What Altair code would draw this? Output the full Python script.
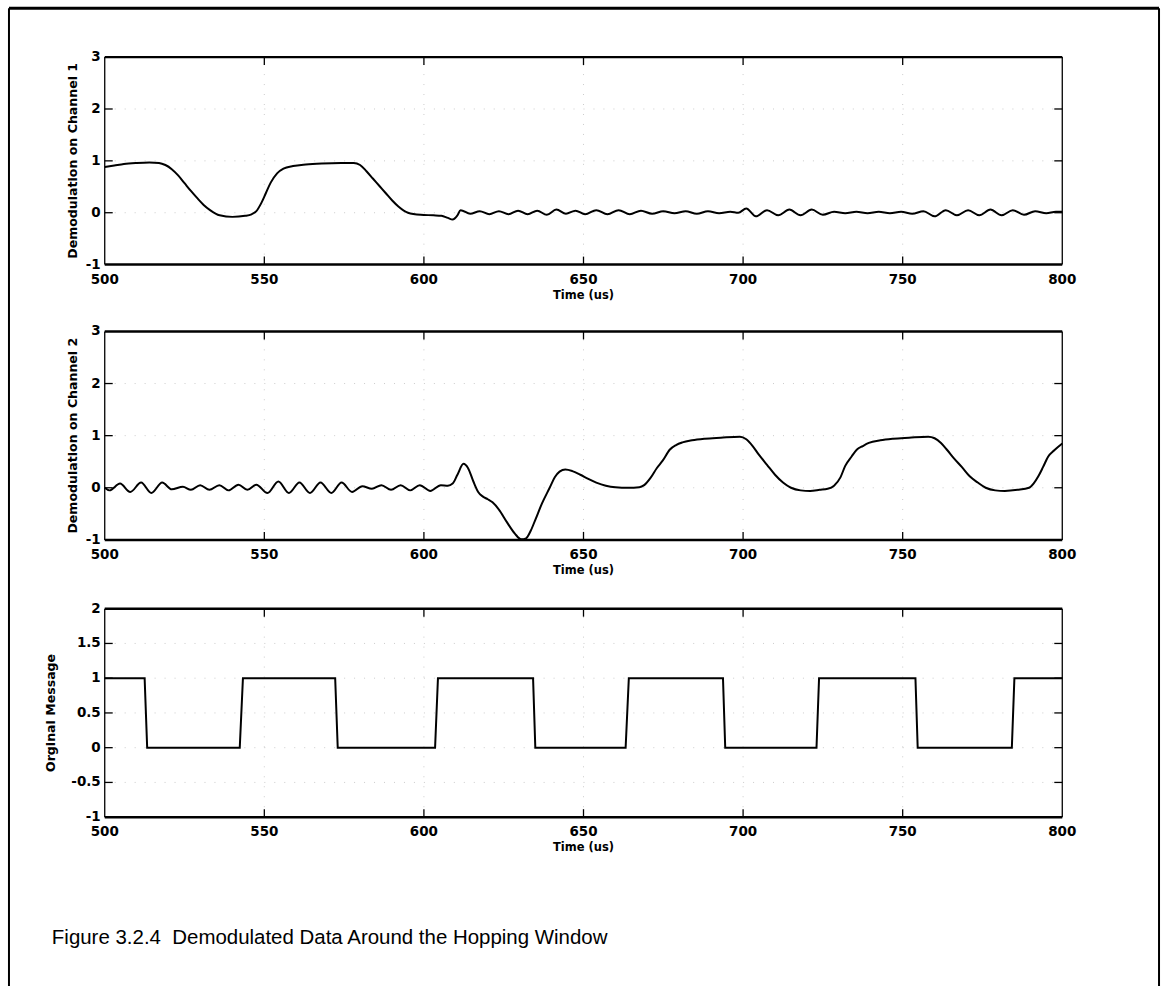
import altair as alt
import pandas as pd

# ---------------- data ----------------
X_TICKS = [500, 550, 600, 650, 700, 750, 800]
Y12_TICKS = [-1, 0, 1, 2, 3]
Y3_TICKS = [-1, -0.5, 0, 0.5, 1, 1.5, 2]

Y_TITLES = ["Demodulation on Channel 1", "Demodulation on Channel 2", "Orginal Message"]
X_TITLE = "Time (us)"
CAPTION = "Figure 3.2.4\u00a0 Demodulated Data Around the Hopping Window"

CH1_T = [500, 503, 506, 510, 514, 517, 519, 521, 523, 525, 527, 529, 531, 533, 536,
         540, 544, 546, 547.5, 549, 550.5, 552, 554, 556, 559, 563, 568, 574, 578,
         580, 582, 584, 586, 588, 590, 592, 595, 599, 603, 605.5, 607.5, 609, 610.5,
         611.5, 614.5, 617.5, 620.5, 623.5, 626.5, 629.5, 632.5, 635.5, 638.5, 641.5,
         644.5, 647.5, 650.5, 654, 657.5, 661, 664.5, 668, 671.5, 675, 678.5, 682,
         685.5, 689, 692.5, 696, 698.5, 701, 704, 707.5, 711, 714.5, 718, 721.5, 725,
         728.5, 732, 735.5, 739, 742.5, 746, 749.5, 753, 756.5, 760, 763.5, 767,
         770.5, 774, 777.5, 781, 784.5, 788, 791.5, 795, 798, 800]
CH1_V = [0.88, 0.91, 0.94, 0.96, 0.97, 0.96, 0.92, 0.84, 0.72, 0.57, 0.42, 0.28, 0.15, 0.05, -0.05,
         -0.08, -0.06, -0.03, 0.03, 0.18, 0.38, 0.58, 0.76, 0.85, 0.9, 0.93, 0.95, 0.96, 0.96,
         0.92, 0.8, 0.66, 0.52, 0.38, 0.24, 0.12, 0.0, -0.04, -0.05, -0.06, -0.1, -0.13, -0.05,
         0.05, -0.02, 0.03, -0.03, 0.03, -0.03, 0.04, -0.03, 0.04, -0.04, 0.06,
         -0.02, 0.04, -0.03, 0.05, -0.03, 0.05, -0.03, 0.04, -0.02, 0.03, -0.01, 0.03,
         -0.02, 0.03, -0.01, 0.02, 0.0, 0.08, -0.07, 0.05, -0.05, 0.06, -0.05, 0.06, -0.04,
         0.02, -0.01, 0.02, -0.01, 0.02, -0.01, 0.02, -0.02, 0.03, -0.07, 0.05, -0.05,
         0.05, -0.05, 0.06, -0.05, 0.05, -0.04, 0.03, -0.01, 0.02, 0.02]

CH2_T = [500, 501.5, 504.8, 508, 511.4, 514.6, 518, 521, 524.5, 527, 529.9, 532.8, 535.9,
         538.8, 541.9, 544.7, 547.5, 551, 554.4, 557.7, 561, 564.3, 567.6, 571, 574.2,
         577.5, 580.7, 583.7, 586.7, 589.7, 592.7, 595.7, 598.7, 602, 605.3, 607.5,
         609, 610.5, 612.4, 613.8, 615.5, 617, 618.5, 620, 621.5, 623.5, 626, 628.5,
         630.5, 632, 633.5, 635, 637, 639.4, 641, 642.5, 644.3, 646.5, 649, 651.5, 654,
         657, 660, 664, 667.5, 669, 671, 673, 674.8, 677, 679, 681, 684, 688, 693, 699,
         701, 703, 705, 707.5, 710, 712.5, 715, 718, 721, 724, 726.5, 728.5, 730.5, 732,
         734, 735.6, 737.5, 739.4, 743, 747, 752, 758, 760, 762, 764, 766, 768.5, 771,
         773.5, 776, 779, 782, 786, 789.6, 791, 792.5, 794, 795.6, 797.5, 800]
CH2_V = [0.0, -0.05, 0.08, -0.08, 0.1, -0.1, 0.1, -0.03, 0.02, -0.04, 0.05, -0.04, 0.05,
         -0.05, 0.06, -0.04, 0.06, -0.1, 0.12, -0.1, 0.1, -0.1, 0.1, -0.1, 0.1,
         -0.08, 0.03, -0.02, 0.05, -0.04, 0.05, -0.05, 0.05, -0.06, 0.05, 0.04,
         0.08, 0.25, 0.46, 0.38, 0.12, -0.08, -0.17, -0.22, -0.28, -0.42, -0.66, -0.88,
         -0.99, -0.97, -0.82, -0.6, -0.3, 0.0, 0.2, 0.31, 0.35, 0.32, 0.25, 0.17, 0.1,
         0.04, 0.01, 0.0, 0.01, 0.05, 0.19, 0.38, 0.52, 0.73, 0.82, 0.87, 0.91, 0.94, 0.96, 0.98,
         0.93, 0.8, 0.63, 0.44, 0.25, 0.1, 0.0, -0.05, -0.06, -0.04, -0.02, 0.04, 0.2, 0.42,
         0.6, 0.73, 0.8, 0.86, 0.91, 0.94, 0.96, 0.98, 0.95, 0.86, 0.72, 0.57, 0.4, 0.22,
         0.1, 0.0, -0.05, -0.06, -0.04, 0.0, 0.08, 0.22, 0.4, 0.6, 0.72, 0.85]

MSG_T = [500, 512.5, 513.3, 542.3, 543.3, 572.2, 573.0, 603.5, 604.4, 634.2, 634.9,
         663.2, 664.2, 693.7, 694.4, 723.0, 723.8, 754.0, 754.7, 784.2, 785.0, 800]
MSG_V = [1, 1, 0, 0, 1, 1, 0, 0, 1, 1, 0, 0, 1, 1, 0, 0, 1, 1, 0, 0, 1, 1]

# ---------------- layout / style ----------------
FONT = "Liberation Sans"
AXFONT = "DejaVu Sans"
W, H = 1153, 981
PX_L, PX_R = 96, 1056
ROWS = [(49, 257), (324, 533), (602, 811)]
TITLE_X = [64, 64, 42]
TICK = 8


def fmt(v):
    return "%g" % v


def panel(times, values, y_ticks, y_title, top, bottom, title_x, interp):
    lo, hi = y_ticks[0], y_ticks[-1]
    x0, x1 = X_TICKS[0], X_TICKS[-1]
    xs = alt.Scale(domain=[x0, x1], range=[PX_L, PX_R], nice=False, zero=False)
    ys = alt.Scale(domain=[lo, hi], range=[bottom, top], nice=False, zero=False)
    X = lambda f: alt.X(f, scale=xs, axis=None)
    Y = lambda f: alt.Y(f, scale=ys, axis=None)

    inner_x = X_TICKS[1:-1]
    inner_y = y_ticks[1:-1]
    grid_style = dict(color="#999", strokeWidth=1, strokeDash=[1, 9], opacity=0.5)

    grid_h = alt.Chart(pd.DataFrame({"y": inner_y, "a": [x0] * len(inner_y),
                                     "b": [x1] * len(inner_y)})).mark_rule(**grid_style).encode(
        y=Y("y:Q"), x=X("a:Q"), x2="b:Q")
    grid_v = alt.Chart(pd.DataFrame({"x": inner_x, "a": [lo] * len(inner_x),
                                     "b": [hi] * len(inner_x)})).mark_rule(**grid_style).encode(
        x=X("x:Q"), y=Y("a:Q"), y2="b:Q")

    curve = alt.Chart(pd.DataFrame({"t": times, "v": values})).mark_line(
        color="black", strokeWidth=2, interpolate=interp).encode(x=X("t:Q"), y=Y("v:Q"))

    box_v = alt.Chart(pd.DataFrame({"x": [x0, x1], "a": [lo, lo], "b": [hi, hi]})).mark_rule(
        color="black", strokeWidth=1.3).encode(x=X("x:Q"), y=Y("a:Q"), y2="b:Q")
    box_h = alt.Chart(pd.DataFrame({"y": [lo, hi], "a": [x0, x0], "b": [x1, x1]})).mark_rule(
        color="black", strokeWidth=2.5).encode(y=Y("y:Q"), x=X("a:Q"), x2="b:Q")

    xdf = pd.DataFrame({"x": inner_x})
    ydf = pd.DataFrame({"y": inner_y})
    tk = dict(color="black", strokeWidth=1.3)
    tk_b = alt.Chart(xdf).mark_rule(**tk).encode(
        x=X("x:Q"), y=alt.value(bottom), y2=alt.value(bottom - TICK))
    tk_t = alt.Chart(xdf).mark_rule(**tk).encode(
        x=X("x:Q"), y=alt.value(top), y2=alt.value(top + TICK))
    tk_l = alt.Chart(ydf).mark_rule(**tk).encode(
        y=Y("y:Q"), x=alt.value(PX_L), x2=alt.value(PX_L + TICK))
    tk_r = alt.Chart(ydf).mark_rule(**tk).encode(
        y=Y("y:Q"), x=alt.value(PX_R - TICK), x2=alt.value(PX_R))

    lab = dict(font=AXFONT, fontSize=13.5, fontWeight="bold", color="black")
    x_lab = alt.Chart(pd.DataFrame({"x": X_TICKS, "s": [fmt(v) for v in X_TICKS]})).mark_text(
        align="center", baseline="middle", **lab).encode(
        x=X("x:Q"), y=alt.value(bottom + 15), text="s:N")
    y_lab = alt.Chart(pd.DataFrame({"y": y_ticks, "s": [fmt(v) for v in y_ticks]})).mark_text(
        align="right", baseline="middle", **lab).encode(
        y=Y("y:Q"), x=alt.value(PX_L - 4), text="s:N")
    x_title = alt.Chart(pd.DataFrame({"s": [X_TITLE]})).mark_text(
        align="center", baseline="middle", font=AXFONT, fontSize=11.5, fontWeight="bold",
        color="black").encode(
        x=alt.value((PX_L + PX_R) / 2), y=alt.value(bottom + 31), text="s:N")
    y_title_m = alt.Chart(pd.DataFrame({"s": [y_title]})).mark_text(
        align="center", baseline="middle", angle=270, font=AXFONT, fontSize=12.6,
        fontWeight="bold", color="black").encode(
        x=alt.value(title_x), y=alt.value((top + bottom) / 2), text="s:N")

    return alt.layer(grid_h, grid_v, curve, box_v, box_h, tk_b, tk_t, tk_l, tk_r,
                     x_lab, y_lab, x_title, y_title_m)


p1 = panel(CH1_T, CH1_V, Y12_TICKS, Y_TITLES[0], ROWS[0][0], ROWS[0][1], TITLE_X[0], "monotone")
p2 = panel(CH2_T, CH2_V, Y12_TICKS, Y_TITLES[1], ROWS[1][0], ROWS[1][1], TITLE_X[1], "monotone")
p3 = panel(MSG_T, MSG_V, Y3_TICKS, Y_TITLES[2], ROWS[2][0], ROWS[2][1], TITLE_X[2], "linear")

one = pd.DataFrame({"k": [0]})
frame_top = alt.Chart(one).mark_rule(color="black", strokeWidth=3).encode(
    x=alt.value(0), x2=alt.value(W), y=alt.value(0))
frame_left = alt.Chart(one).mark_rule(color="black", strokeWidth=2).encode(
    x=alt.value(0), y=alt.value(0), y2=alt.value(H))
frame_right = alt.Chart(one).mark_rule(color="black", strokeWidth=2).encode(
    x=alt.value(W), y=alt.value(0), y2=alt.value(H))

caption = alt.Chart(pd.DataFrame({"c": [CAPTION]})).mark_text(
    align="left", baseline="middle", font=FONT, fontSize=20.5, color="black").encode(
    text="c:N", x=alt.value(43), y=alt.value(932))

chart = alt.layer(frame_top, frame_left, frame_right, p1, p2, p3, caption).resolve_scale(
    x="independent", y="independent").properties(
    width=W, height=H, background="white",
    padding={"left": 7, "top": 5, "right": 7, "bottom": 0}).configure_view(stroke=None)

chart.save("out.html", embed_options={"renderer": "svg", "actions": False})
